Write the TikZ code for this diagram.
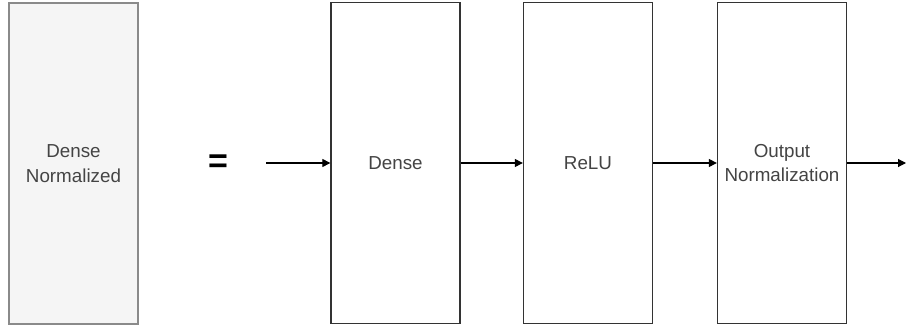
\documentclass[tikz,border=0pt]{standalone}
\usepackage{fontspec}
\setmainfont{Liberation Sans}
\usetikzlibrary{arrows.meta}
\definecolor{txt}{HTML}{444444}
\definecolor{edge}{HTML}{333333}
\definecolor{greyfill}{HTML}{F5F5F5}
\definecolor{greyedge}{HTML}{8A8A8A}
\begin{document}
\begin{tikzpicture}[x=1pt,y=-1pt,
  block/.style={draw=edge,line width=1.3pt,fill=white,minimum width=129pt,minimum height=321pt,
    inner sep=0pt,align=center,text=txt,font=\fontsize{18.8}{24.5}\selectfont},
  greyblock/.style={block,draw=greyedge,fill=greyfill},
  flow/.style={draw=black,line width=1.1pt,-{Triangle[length=8pt,width=8pt]}}]
\useasboundingbox (0,0) rectangle (906,326);
\node[greyblock] (dn) at (73.5,163.5) {Dense\\Normalized};
\node[text=black,font=\bfseries\fontsize{34}{34}\selectfont] (eq) at (218,164) {=};
\node[block] (dense) at (395.5,163) {Dense};
\node[block] (relu) at (588,163) {ReLU};
\node[block] (outn) at (782,163) {Output\\Normalization};
\coordinate (in) at (266,163);
\coordinate (out) at (906,163);
\draw[flow] (in) -- (dense.west);
\draw[flow] (dense.east) -- (relu.west);
\draw[flow] (relu.east) -- (outn.west);
\draw[flow] (outn.east) -- (out);
\end{tikzpicture}
\end{document}
